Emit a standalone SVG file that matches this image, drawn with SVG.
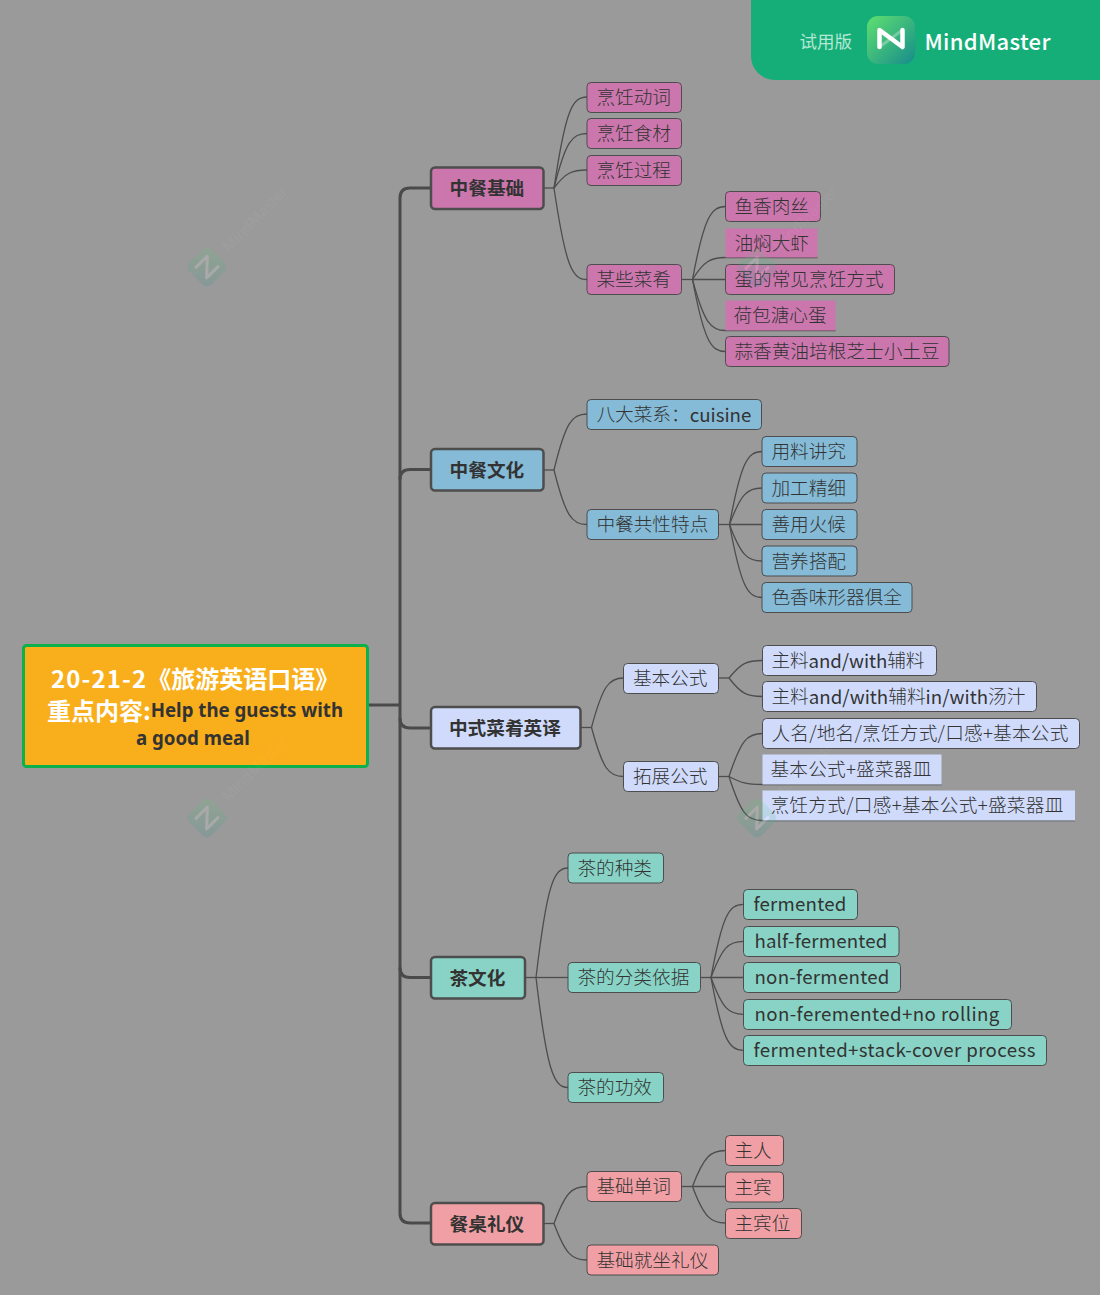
<svg xmlns="http://www.w3.org/2000/svg" width="1100" height="1295" viewBox="0 0 1100 1295">
<style>
text{font-family:"Noto Sans CJK SC","Noto Sans",sans-serif;fill:#333;font-size:18.67px;dominant-baseline:central;translate:-0.6px -1.7px}
.l2 text{font-weight:300}
.l2 text.la,.l2 tspan{font-weight:400}
.l2 rect{stroke:#4d4d4d;stroke-width:1}
.l1 rect{stroke:#4d4d4d;stroke-width:2.5}
.l1 text{font-weight:700;text-anchor:middle}
.c path{fill:none;stroke:#4d4d4d;stroke-width:1.3}
.t path{fill:none;stroke:#4a4a4a;stroke-width:3}
.a rect{fill:#cb77ae}.b rect{fill:#85bbd7}.d rect{fill:#d0dbfb}.e rect{fill:#88d3c6}.f rect{fill:#f0a0a5}
.bare rect{stroke:none}
.wm{opacity:.15}
.wmt{font-size:15px;fill:#fff;opacity:.04;font-family:"Noto Sans",sans-serif}
</style>
<defs>
<linearGradient id="lg" x1="0" y1="0" x2="1" y2="1"><stop offset="0" stop-color="#5fe070"/><stop offset="1" stop-color="#168c8c"/></linearGradient>
<g id="mark"><rect x="-15.5" y="-15.5" width="31" height="31" rx="6" fill="url(#lg)"/><path d="M-7.500 8V-8L7.500 8V-8" fill="none" stroke="#fff" stroke-width="3" stroke-linejoin="round" stroke-linecap="round"/></g>
</defs>
<rect width="1100" height="1295" fill="#9a9a9a"/>
<g id="banner">
<path d="M751 0H1100V80H775A24 24 0 0 1 751 56Z" fill="#15ae79"/>
<text x="800" y="42" style="font-size:17.5px;fill:#b5e8d4">试用版</text>
<rect x="867" y="16" width="48" height="48" rx="11" fill="url(#lg)"/>
<path d="M879.500 49V32L902.500 49V32" transform="translate(0 -2)" fill="none" stroke="#fff" stroke-width="4.500" stroke-linejoin="round" stroke-linecap="round"/>
<path d="M879.500 47L902.500 30" fill="none" stroke="#fff" stroke-opacity=".3" stroke-width="3"/>
<text x="925" y="42" textLength="126" style="font-size:22px;font-weight:500;fill:#fff">MindMaster</text>
</g>
<g id="connectors">
<g class="t">
<path d="M368 705H400"/>
<path d="M431 188H410Q400 188 400 198V1213Q400 1223 410 1223H431"/>
<path d="M431 469.500H410Q400 469.500 400 479.500"/>
<path d="M400 718Q400 728 410 728H431"/>
<path d="M400 967.500Q400 977.500 410 977.500H431"/>
</g>
<g class="c">
<path d="M543.500 188H554"/>
<path d="M554 188C565.500 110.700 572 97 587 97"/>
<path d="M554 188C565.500 141.700 572 133.500 587 133.500"/>
<path d="M554 188C565.500 172.700 572 170 587 170"/>
<path d="M554 188C565.500 265.800 572 279.500 587 279.500"/>
<path d="M681.500 279.500H692.500"/>
<path d="M692.500 279.500C704 217.500 711 206.500 725.500 206.500"/>
<path d="M692.500 279.500C704 260.800 711 257.500 725.500 257.500H817.500"/>
<path d="M692.500 279.500H725.500"/>
<path d="M692.500 279.500C704 322.900 711 330.500 725.500 330.500H835.500"/>
<path d="M692.500 279.500C704 340.700 711 351.500 725.500 351.500"/>
<path d="M543.500 470H554"/>
<path d="M554 470C565.500 422.400 572 414 587 414"/>
<path d="M554 470C565.500 516.300 572 524.500 587 524.500"/>
<path d="M718.500 524.500H729.500"/>
<path d="M729.500 524.500C741 462.600 747.500 451.500 762 451.500"/>
<path d="M729.500 524.500C741 493.500 747.500 488 762 488"/>
<path d="M729.500 524.500H762"/>
<path d="M729.500 524.500C741 555.500 747.500 561 762 561"/>
<path d="M729.500 524.500C741 586.500 747.500 597.500 762 597.500"/>
<path d="M580.500 727.500H591.500"/>
<path d="M591.500 727.500C602.700 685.500 609 678 623.500 678"/>
<path d="M591.500 727.500C602.700 769.500 609 776.500 623.500 776.500"/>
<path d="M718.500 678H729"/>
<path d="M729 678C741 663 747 660.500 762.500 660.500"/>
<path d="M729 678C741 693.700 747 696.500 762.500 696.500"/>
<path d="M718.500 776.500H729"/>
<path d="M729 776.500C741 740 747 733.500 762.500 733.500"/>
<path d="M729 776.500C741 783 747 784.500 762.500 784.500H941.500"/>
<path d="M729 776.500C741 814 747 820.500 762.500 820.500H1075"/>
<path d="M525 977.500H536"/>
<path d="M536 977.500C547 884.400 553.600 868 568 868"/>
<path d="M536 977.500H568"/>
<path d="M536 977.500C547 1071 553.600 1087.500 568 1087.500"/>
<path d="M700.500 977.500H711"/>
<path d="M711 977.500C722.400 915.300 728.900 904.300 743.500 904.300"/>
<path d="M711 977.500C722.400 946.700 728.900 941.300 743.500 941.300"/>
<path d="M711 977.500H743.500"/>
<path d="M711 977.500C722.400 1008.800 728.900 1014.300 743.500 1014.300"/>
<path d="M711 977.500C722.400 1039.400 728.900 1050.300 743.500 1050.300"/>
<path d="M543.500 1223.500H554"/>
<path d="M554 1223.500C565.500 1192 572 1186.500 587 1186.500"/>
<path d="M554 1223.500C565.500 1254.500 572 1260 587 1260"/>
<path d="M681.500 1186.500H692.500"/>
<path d="M692.500 1186.500C704 1156 711 1150.500 725.500 1150.500"/>
<path d="M692.500 1186.500H725.500"/>
<path d="M692.500 1186.500C704 1217.500 711 1223 725.500 1223"/>
</g>
</g>
<g id="root"><rect x="23.500" y="645.500" width="344" height="121" rx="3" fill="#f9ae1b" stroke="#0db14b" stroke-width="3"/>
<text x="51.500" y="679" style="font-size:24px;font-weight:700;fill:#fff"><tspan letter-spacing="1.1">20-21-2</tspan>《旅游英语口语》</text>
<text x="47.500" y="711" style="font-size:24px;font-weight:700;fill:#fff">重点内容:<tspan style="font-size:18.67px;fill:#333;font-family:'Noto Sans',sans-serif">Help the guests with</tspan></text>
<text x="193.500" y="739" style="font-size:18.67px;font-weight:700;text-anchor:middle;font-family:'Noto Sans',sans-serif">a good meal</text></g>
<g id="n1" class="l1 a"><rect x="431" y="167.500" width="112.500" height="41.500" rx="4"/><text x="487.500" y="188">中餐基础</text></g>
<g id="n2" class="l2 a"><rect x="587" y="82.500" width="94.500" height="30" rx="4"/><text x="597" y="97">烹饪动词</text></g>
<g id="n3" class="l2 a"><rect x="587" y="118.500" width="94.500" height="30" rx="4"/><text x="597" y="133.500">烹饪食材</text></g>
<g id="n4" class="l2 a"><rect x="587" y="155.500" width="94.500" height="30" rx="4"/><text x="597" y="170">烹饪过程</text></g>
<g id="n5" class="l2 a"><rect x="587" y="264.500" width="94.500" height="30" rx="4"/><text x="597" y="279.500">某些菜肴</text></g>
<g id="n6" class="l2 a"><rect x="725.500" y="191.500" width="95" height="30" rx="4"/><text x="735" y="206.500">鱼香肉丝</text></g>
<g id="n7" class="l2 a bare"><rect x="725.500" y="228.500" width="92" height="29"/><text x="735" y="243">油焖大虾</text></g>
<g id="n8" class="l2 a"><rect x="725.500" y="264.500" width="169" height="30" rx="4"/><text x="735" y="279.500">蛋的常见烹饪方式</text></g>
<g id="n9" class="l2 a bare"><rect x="725.500" y="300.500" width="110" height="30"/><text x="734" y="315">荷包溏心蛋</text></g>
<g id="n10" class="l2 a"><rect x="725.500" y="336.500" width="223.500" height="30" rx="4"/><text x="735" y="351.500">蒜香黄油培根芝士小土豆</text></g>
<g id="n11" class="l1 b"><rect x="431" y="449" width="112.500" height="41.500" rx="4"/><text x="487.500" y="470">中餐文化</text></g>
<g id="n12" class="l2 b"><rect x="587" y="399.500" width="174.500" height="30" rx="4"/><text x="597" y="414.500">八大菜系：<tspan>cuisine</tspan></text></g>
<g id="n13" class="l2 b"><rect x="587" y="509.500" width="131.500" height="30" rx="4"/><text x="597" y="524.500">中餐共性特点</text></g>
<g id="n14" class="l2 b"><rect x="762" y="436.500" width="95" height="30" rx="4"/><text x="772" y="451.500">用料讲究</text></g>
<g id="n15" class="l2 b"><rect x="762" y="473" width="95" height="30" rx="4"/><text x="772" y="488">加工精细</text></g>
<g id="n16" class="l2 b"><rect x="762" y="509.500" width="95" height="30" rx="4"/><text x="772" y="524.500">善用火候</text></g>
<g id="n17" class="l2 b"><rect x="762" y="546" width="95" height="30" rx="4"/><text x="772" y="561">营养搭配</text></g>
<g id="n18" class="l2 b"><rect x="762" y="582.500" width="150" height="30" rx="4"/><text x="772" y="597.500">色香味形器俱全</text></g>
<g id="n19" class="l1 d"><rect x="431" y="707" width="149.500" height="41.500" rx="4"/><text x="505.500" y="728">中式菜肴英译</text></g>
<g id="n20" class="l2 d"><rect x="623.500" y="663.500" width="95" height="30" rx="4"/><text x="633.500" y="678">基本公式</text></g>
<g id="n21" class="l2 d"><rect x="623.500" y="761.500" width="95" height="30" rx="4"/><text x="633.500" y="776.500">拓展公式</text></g>
<g id="n22" class="l2 d"><rect x="762.500" y="645.500" width="174" height="30" rx="4"/><text x="772" y="660.500" textLength="153">主料<tspan>and/with</tspan>辅料</text></g>
<g id="n23" class="l2 d"><rect x="762.500" y="681.500" width="274" height="30" rx="4"/><text x="772" y="696.500" textLength="254">主料<tspan>and/with</tspan>辅料<tspan>in/with</tspan>汤汁</text></g>
<g id="n24" class="l2 d"><rect x="762.500" y="718.500" width="317" height="30" rx="4"/><text x="772" y="733.500" textLength="297">人名/地名/烹饪方式/口感+基本公式</text></g>
<g id="n25" class="l2 d bare"><rect x="762.500" y="754.500" width="179" height="30"/><text x="771" y="769" textLength="161">基本公式+盛菜器皿</text></g>
<g id="n26" class="l2 d bare"><rect x="762.500" y="790.500" width="312.500" height="30"/><text x="771" y="805.500" textLength="293">烹饪方式/口感+基本公式+盛菜器皿</text></g>
<g id="n27" class="l1 e"><rect x="431" y="957" width="94" height="41.500" rx="4"/><text x="478" y="978">茶文化</text></g>
<g id="n28" class="l2 e"><rect x="568" y="853" width="95.500" height="30" rx="4"/><text x="578" y="868">茶的种类</text></g>
<g id="n29" class="l2 e"><rect x="568" y="962.500" width="132.500" height="30" rx="4"/><text x="578" y="977.500">茶的分类依据</text></g>
<g id="n30" class="l2 e"><rect x="568" y="1072.500" width="95.500" height="30" rx="4"/><text x="578" y="1087.500">茶的功效</text></g>
<g id="n31" class="l2 e"><rect x="743.500" y="889.500" width="114" height="30" rx="4"/><text class="la" x="754" y="904.500" textLength="93">fermented</text></g>
<g id="n32" class="l2 e"><rect x="743.500" y="926.500" width="155.500" height="30" rx="4"/><text class="la" x="755" y="941" textLength="133">half-fermented</text></g>
<g id="n33" class="l2 e"><rect x="743.500" y="962.500" width="157" height="30" rx="4"/><text class="la" x="755" y="977.500" textLength="135">non-fermented</text></g>
<g id="n34" class="l2 e"><rect x="743.500" y="999.500" width="268" height="30" rx="4"/><text class="la" x="755" y="1014" textLength="245">non-feremented+no rolling</text></g>
<g id="n35" class="l2 e"><rect x="743.500" y="1035.500" width="303" height="30" rx="4"/><text class="la" x="754" y="1050.500" textLength="282">fermented+stack-cover process</text></g>
<g id="n36" class="l1 f"><rect x="431" y="1203" width="112.500" height="41.500" rx="4"/><text x="487.500" y="1224">餐桌礼仪</text></g>
<g id="n37" class="l2 f"><rect x="587" y="1171.500" width="94.500" height="30" rx="4"/><text x="597" y="1186.500">基础单词</text></g>
<g id="n38" class="l2 f"><rect x="587" y="1245" width="131.500" height="30" rx="4"/><text x="597" y="1260">基础就坐礼仪</text></g>
<g id="n39" class="l2 f"><rect x="725.500" y="1135.500" width="58" height="30" rx="4"/><text x="735" y="1150.500">主人</text></g>
<g id="n40" class="l2 f"><rect x="725.500" y="1172" width="58" height="30" rx="4"/><text x="735" y="1187">主宾</text></g>
<g id="n41" class="l2 f"><rect x="725.500" y="1208.500" width="76" height="30" rx="4"/><text x="735" y="1223.500">主宾位</text></g>
<g id="watermarks">
<use href="#mark" class="wm" transform="translate(207 267) rotate(45)"/>
<use href="#mark" class="wm" transform="translate(757 268) rotate(45)"/>
<use href="#mark" class="wm" transform="translate(207 818) rotate(45)"/>
<use href="#mark" class="wm" transform="translate(757 818) rotate(45)"/>
<text class="wmt" transform="translate(225 250) rotate(-45)">MindMaster</text>
<text class="wmt" transform="translate(775 250) rotate(-45)">MindMaster</text>
<text class="wmt" transform="translate(225 800) rotate(-45)">MindMaster</text>
<text class="wmt" transform="translate(775 800) rotate(-45)">MindMaster</text>
</g>
</svg>
